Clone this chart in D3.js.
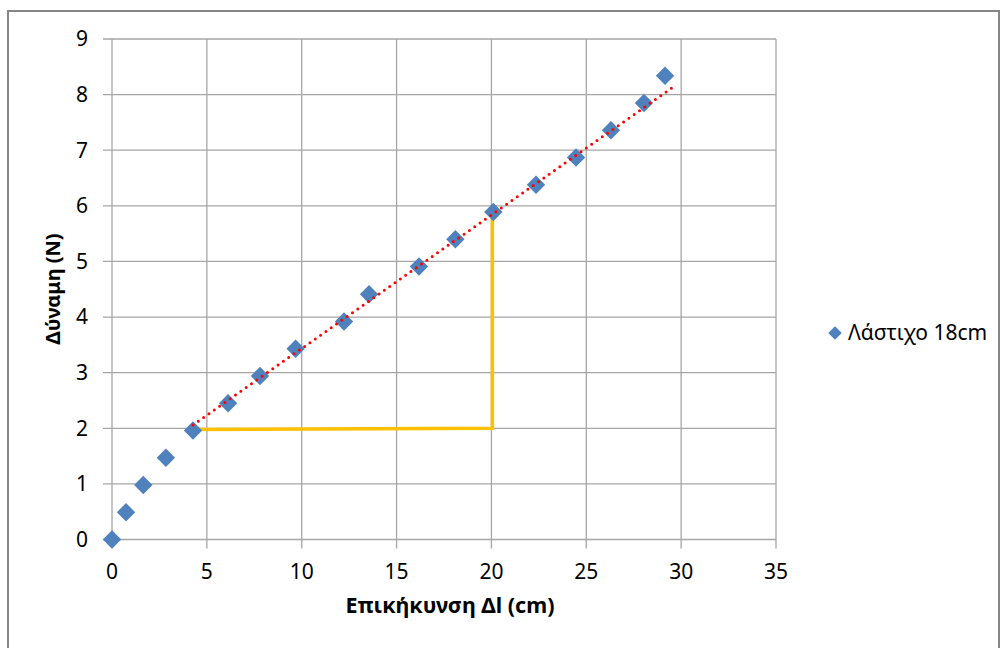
<!DOCTYPE html>
<html>
<head>
<meta charset="utf-8">
<script src="https://cdn.jsdelivr.net/npm/d3@7"></script>
<style>
  body { margin: 0; background: #fff; }
  svg text { font-family: "Noto Sans", "Open Sans", sans-serif; fill: #000; }
</style>
</head>
<body>
<svg id="chart" width="1004" height="648"></svg>
<script>
// measured data (extension in cm, force in N)
var extension = [0, 0.74, 1.65, 2.84, 4.27, 6.12, 7.8, 9.68, 12.23, 13.55, 16.18, 18.1, 20.1, 22.35, 24.46, 26.3, 28.04, 29.15];
var force = [0, 0.49, 0.98, 1.47, 1.96, 2.45, 2.94, 3.43, 3.92, 4.41, 4.91, 5.40, 5.89, 6.38, 6.87, 7.36, 7.85, 8.34];

// red dotted trendline ends
var trendX = [4.27, 29.55];
var trendY = [2.06, 8.13];

// orange slope triangle
var stepX = [4.27, 20.05, 20.05];
var stepY = [1.98, 2.0, 5.88];

var xTicks = [0, 5, 10, 15, 20, 25, 30, 35];
var yTicks = [0, 1, 2, 3, 4, 5, 6, 7, 8, 9];

var seriesName = "Λάστιχο 18cm";
var xTitle = "Επικήκυνση Δl (cm)";
var yTitle = "Δύναμη (N)";

var svg = d3.select("#chart");

var plotL = 112, plotR = 776, plotT = 39, plotB = 539.5;

var x = d3.scaleLinear().domain([0, 35]).range([plotL, plotR]);
var y = d3.scaleLinear().domain([0, 9]).range([plotB, plotT]);

// outer frame
svg.append("rect")
    .attr("x", 8).attr("y", 11)
    .attr("width", 991).attr("height", 700)
    .attr("fill", "none")
    .attr("stroke", "#868686")
    .attr("stroke-width", 2);

var gridColor = "#a6a6a6";

// horizontal grid + tick marks
svg.append("g").selectAll("line")
  .data(yTicks)
  .enter().append("line")
    .attr("x1", plotL - 9)
    .attr("x2", plotR)
    .attr("y1", function(d) { return y(d); })
    .attr("y2", function(d) { return y(d); })
    .attr("stroke", gridColor)
    .attr("stroke-width", 1.3);

// vertical grid + tick marks
svg.append("g").selectAll("line")
  .data(xTicks)
  .enter().append("line")
    .attr("x1", function(d) { return x(d); })
    .attr("x2", function(d) { return x(d); })
    .attr("y1", plotT)
    .attr("y2", plotB + 9)
    .attr("stroke", gridColor)
    .attr("stroke-width", 1.3);

// tick labels
svg.append("g").selectAll("text")
  .data(yTicks)
  .enter().append("text")
    .attr("x", 88)
    .attr("y", function(d) { return y(d); })
    .attr("dy", "0.35em")
    .attr("text-anchor", "end")
    .attr("font-size", 21)
    .text(function(d) { return d; });

svg.append("g").selectAll("text")
  .data(xTicks)
  .enter().append("text")
    .attr("x", function(d) { return x(d); })
    .attr("y", 572)
    .attr("dy", "0.35em")
    .attr("text-anchor", "middle")
    .attr("font-size", 21)
    .text(function(d) { return d; });

// axis titles
svg.append("text")
    .attr("x", 450)
    .attr("y", 605)
    .attr("dy", "0.35em")
    .attr("text-anchor", "middle")
    .attr("font-size", 21.5)
    .attr("font-weight", "bold")
    .text(xTitle);

svg.append("text")
    .attr("transform", "translate(53,289) rotate(-90)")
    .attr("dy", "0.35em")
    .attr("text-anchor", "middle")
    .attr("font-size", 20)
    .attr("font-weight", "bold")
    .text(yTitle);

// slope triangle
var stepLine = d3.line()
    .x(function(d) { return x(d[0]); })
    .y(function(d) { return y(d[1]); });

svg.append("path")
    .datum(d3.zip(stepX, stepY))
    .attr("d", stepLine)
    .attr("fill", "none")
    .attr("stroke", "#ffc000")
    .attr("stroke-width", 3.5);

// markers
var diamond = d3.symbol().type(d3.symbolDiamond2).size(215);

svg.append("g").selectAll("path")
  .data(d3.zip(extension, force))
  .enter().append("path")
    .attr("d", diamond)
    .attr("transform", function(d) { return "translate(" + x(d[0]) + "," + y(d[1]) + ")"; })
    .attr("fill", "#4f81bd");

// trendline
svg.append("path")
    .datum(d3.zip(trendX, trendY))
    .attr("d", stepLine)
    .attr("fill", "none")
    .attr("stroke", "#ff0000")
    .attr("stroke-width", 3)
    .attr("stroke-linecap", "round")
    .attr("stroke-dasharray", "0,6.5");

// legend
svg.append("path")
    .attr("d", d3.symbol().type(d3.symbolDiamond2).size(115))
    .attr("transform", "translate(835,333)")
    .attr("fill", "#4f81bd");

svg.append("text")
    .attr("x", 848)
    .attr("y", 333)
    .attr("dy", "0.35em")
    .attr("font-size", 21)
    .text(seriesName);
</script>
</body>
</html>
